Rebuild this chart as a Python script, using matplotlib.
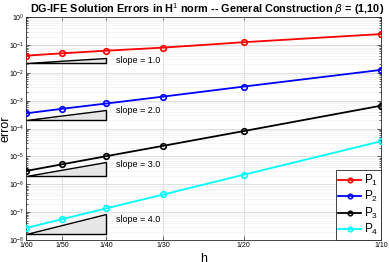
import matplotlib
matplotlib.use("Agg")
import matplotlib.pyplot as plt
import numpy as np
from matplotlib.ticker import FixedLocator, NullFormatter, LogLocator

plt.rcParams['font.family'] = ['Liberation Sans', 'DejaVu Sans']
plt.rcParams['mathtext.fontset'] = 'custom'
plt.rcParams['mathtext.rm'] = 'Liberation Sans'

h = [1/60, 1/50, 1/40, 1/30, 1/20, 1/10]
h_labels = ['1/60', '1/50', '1/40', '1/30', '1/20', '1/10']

err_p1 = [0.041, 0.050, 0.062, 0.080, 0.125, 0.245]
err_p2 = [3.5e-4, 5.1e-4, 7.9e-4, 1.40e-3, 3.2e-3, 1.27e-2]
err_p3 = [3.0e-6, 5.2e-6, 1.02e-5, 2.4e-5, 8.1e-5, 6.6e-4]
err_p4 = [2.7e-8, 5.6e-8, 1.37e-7, 4.3e-7, 2.2e-6, 3.5e-5]

series = [err_p1, err_p2, err_p3, err_p4]
names = ['P$_1$', 'P$_2$', 'P$_3$', 'P$_4$']
colors = ['#ff0000', '#0000ff', '#000000', '#00ffff']

slopes = [1.0, 2.0, 3.0, 4.0]
tri_base = [0.022, 2.0e-4, 1.9e-6, 1.7e-8]
tri_h = [1/60, 1/40]
text_y = [0.027, 4.6e-4, 5.0e-6, 5.5e-8]

fig = plt.figure(figsize=(3.89, 2.62), dpi=100)
ax = fig.add_axes([0.067, 0.084, 0.913, 0.851])

for s, base in zip(slopes, tri_base):
    top = base * (tri_h[1] / tri_h[0]) ** s
    ax.fill([tri_h[0], tri_h[1], tri_h[1]], [base, base, top],
            facecolor='#e6e6e6', edgecolor='black', linewidth=1.0, zorder=2)

for s, ty in zip(slopes, text_y):
    ax.text(tri_h[1] * 1.05, ty, f'slope = {s:.1f}', fontsize=6.5,
            va='center', ha='left', zorder=4)

for ys, nm, c in zip(series, names, colors):
    ax.plot(h, ys, '-o', color=c, linewidth=1.3, markersize=4,
            markerfacecolor='none', markeredgewidth=1.2, label=nm, zorder=3)

ax.set_xscale('log')
ax.set_yscale('log')
ax.set_xlim(1/60, 1/10)
ax.set_ylim(1e-8, 1e0)
ax.xaxis.set_major_locator(FixedLocator(h))
ax.set_xticklabels(h_labels)
ax.xaxis.set_minor_locator(FixedLocator([]))
ax.xaxis.set_minor_formatter(NullFormatter())
ax.yaxis.set_major_locator(LogLocator(base=10, numticks=20))
ax.yaxis.set_minor_locator(LogLocator(base=10, subs=np.arange(2, 10), numticks=20))
ax.yaxis.set_minor_formatter(NullFormatter())

ax.tick_params(which='both', direction='in', top=True, right=True,
               labelsize=5, pad=1.5, width=0.5, color='#262626')
ax.tick_params(which='major', length=3)
ax.tick_params(which='minor', length=1.5)
ax.grid(True, which='major', color='#d9d9d9', linewidth=0.6)
ax.grid(True, which='minor', color='#eeeeee', linewidth=0.4)
ax.set_axisbelow(True)
for sp in ax.spines.values():
    sp.set_linewidth(0.6)
    sp.set_color('#262626')

ax.set_xlabel('h', fontsize=9)
ax.xaxis.set_label_coords(0.5, -0.06)
ax.set_ylabel('error', fontsize=9)
ax.yaxis.set_label_coords(-0.042, 0.5)
ax.set_title(r'DG-IFE Solution Errors in H$^1$ norm -- General Construction $\beta$ = (1,10)',
             fontsize=7.8, fontweight='bold', pad=3, x=0.51)

leg = ax.legend(loc='lower right', fontsize=8.5, handlelength=1.9,
                borderaxespad=0.0, labelspacing=0.1, handletextpad=0.25,
                fancybox=False, framealpha=1, edgecolor='#262626',
                borderpad=0.25, markerscale=0.8)
leg.get_frame().set_linewidth(0.6)

fig.savefig('out.png', dpi=100)
